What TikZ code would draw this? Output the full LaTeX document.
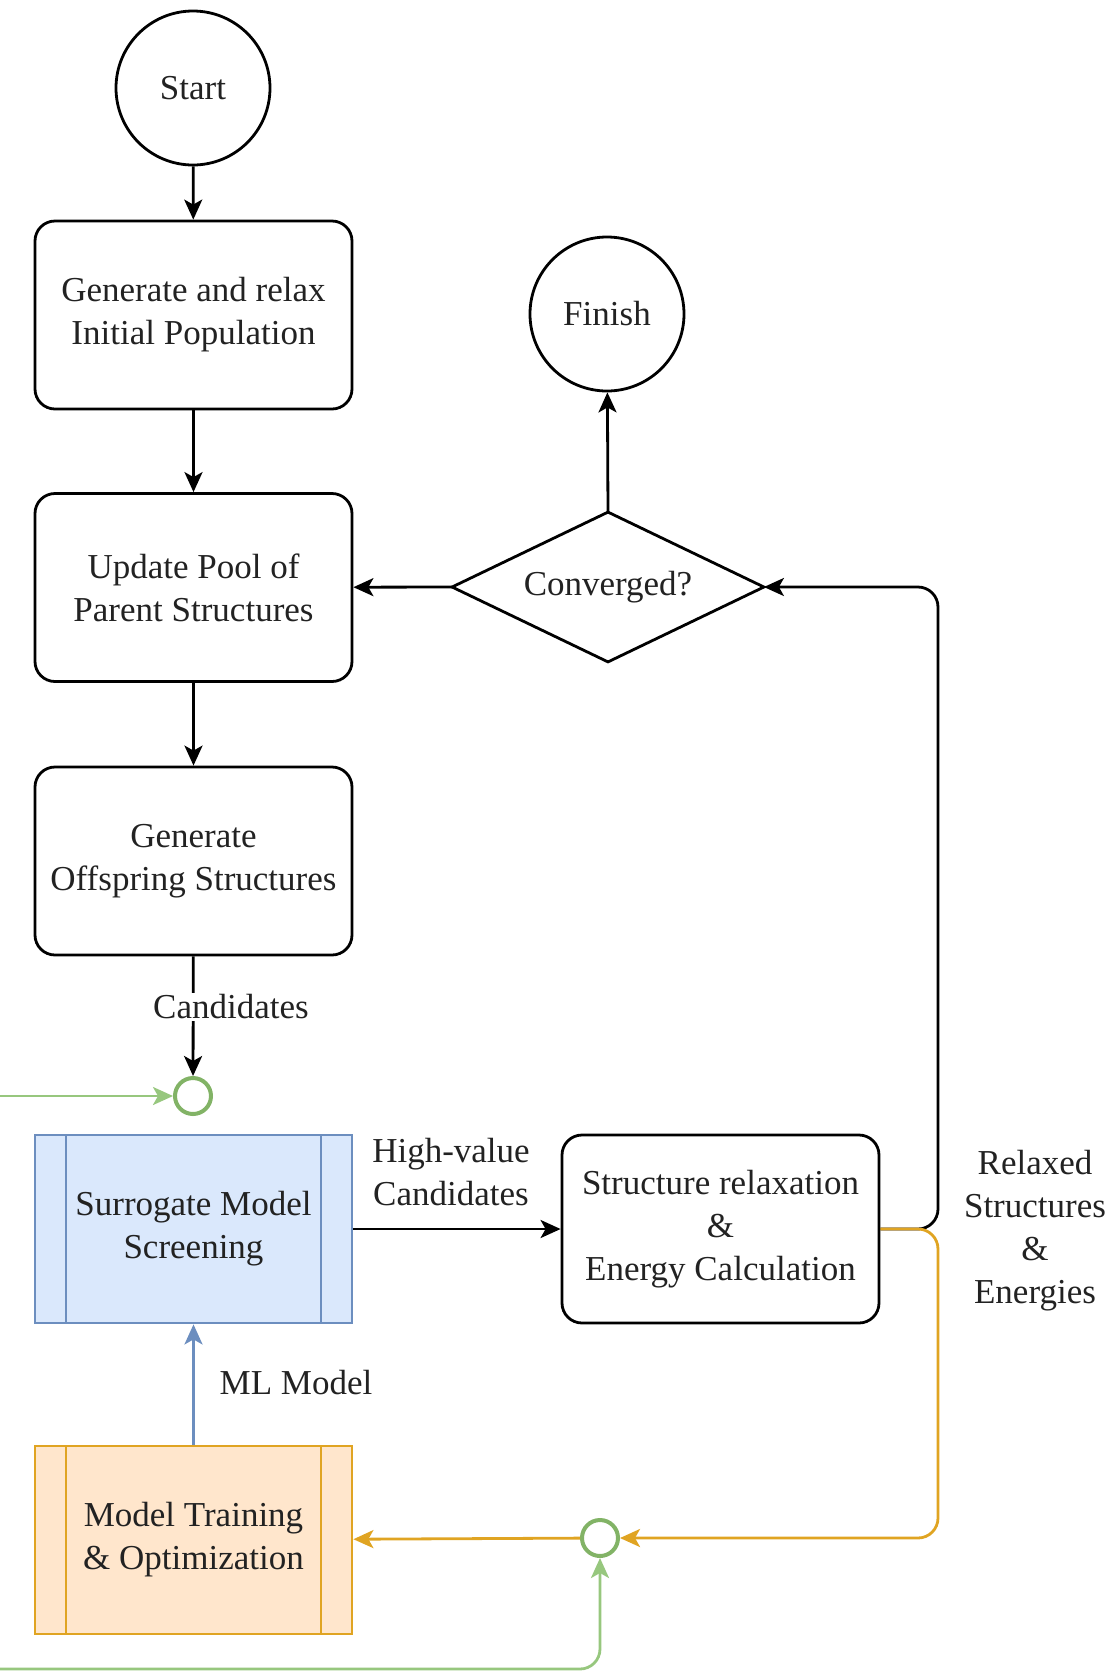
\documentclass[tikz,border=0pt]{standalone}
\usepackage{fontspec}
\setmainfont{Liberation Serif}
\usetikzlibrary{arrows.meta,shapes.geometric,positioning}
\definecolor{blueS}{HTML}{6C8EBF}
\definecolor{blueF}{HTML}{DAE8FC}
\definecolor{orS}{HTML}{E0A422}
\definecolor{orF}{HTML}{FFE6CC}
\definecolor{grS}{HTML}{82B366}
\definecolor{grL}{HTML}{97C77E}
\definecolor{txt}{HTML}{222222}
\tikzset{
  lbl/.style={font=\fontsize{17.5pt}{21.5pt}\selectfont, text=txt, align=center},
  term/.style={lbl, circle, draw=black, line width=1.4pt, minimum size=77pt, inner sep=0pt},
  stepbox/.style={lbl, draw=black, line width=1.4pt, rounded corners=10pt, minimum width=158.5pt, minimum height=94pt, inner sep=0pt},
  procbox/.style={lbl, draw=#1S, fill=#1F, line width=1.4pt, minimum width=158.5pt, minimum height=94pt, inner sep=0pt,
    path picture={\draw[#1S, line width=1.4pt] ([xshift=15.5pt]path picture bounding box.north west) -- ([xshift=15.5pt]path picture bounding box.south west);
                  \draw[#1S, line width=1.4pt] ([xshift=-15.5pt]path picture bounding box.north east) -- ([xshift=-15.5pt]path picture bounding box.south east);}},
  decide/.style={lbl, rectangle, minimum width=155.5pt, minimum height=74.5pt, inner sep=0pt},
  decideline/.style={draw=black, line width=1.4pt, line join=miter},
  junct/.style={circle, draw=grS, line width=2pt, minimum size=18pt, inner sep=0pt, fill=white},
  flow/.style={line width=1.4pt, -{Stealth[length=10pt,width=9pt,inset=2.5pt]}},
}
\begin{document}
\begin{tikzpicture}[x=0.5pt,y=-0.5pt]
\useasboundingbox (0,0) rectangle (1117,1672);
\node[term] (start) at (193,88) {Start};
\node[stepbox] (init) at (193.5,315) {Generate and relax\\Initial Population};
\node[stepbox] (pool) at (193.5,587.5) {Update Pool of\\Parent Structures};
\node[stepbox] (off) at (193.5,861) {Generate\\Offspring Structures};
\node[term] (finish) at (607,314) {Finish};
\node[decide] (conv) at (608,587) {Converged?};
\draw[decideline] (conv.north) -- (conv.east) -- (conv.south) -- (conv.west) -- cycle;
\node[junct] (j1) at (193,1096) {};
\node[procbox=blue] (surr) at (193.5,1229) {Surrogate Model\\Screening};
\node[stepbox] (relax) at (720.5,1229) {Structure relaxation\\\&\\Energy Calculation};
\node[procbox=or] (train) at (193.5,1540) {Model Training\\\& Optimization};
\node[junct] (j2) at (600,1538) {};
\node[lbl] (hv) at (451,1172) {High-value\\Candidates};
\node[lbl] (rel) at (1035,1231) {Relaxed\\Structures\\\&\\Energies};
\node[lbl] (ml) at (296,1383) {ML Model};
\coordinate (gin1) at (0,1096);
\coordinate (gin2) at (0,1669);
\coordinate (cA) at (938,1229);
\coordinate (cB) at (938,587);
\coordinate (cC) at (938,1538);
\coordinate (cD) at (600,1669);

\draw[flow] (start) -- (init);
\draw[flow] (init) -- (pool);
\draw[flow] (pool) -- (off);
\draw[flow] (off) -- (j1);
\node[lbl, fill=white, inner sep=1pt] (cand) at (231,1007) {Candidates};
\draw[flow] (conv.west) -- (pool);
\draw[flow] (conv.north) -- (finish);
\draw[flow] (surr) -- (relax);
\draw[flow, rounded corners=10pt] (relax.east) -- (cA) -- (cB) -- (conv.east);
\draw[flow, orS, rounded corners=10pt] (relax.east) -- (cA) -- (cC) -- (j2.east);
\draw[flow, orS] (j2) -- (train);
\draw[flow, blueS] (train) -- (surr);
\draw[flow, grL] (gin1) -- (j1);
\draw[flow, grL, rounded corners=10pt] (gin2) -- (cD) -- (j2.south);
\end{tikzpicture}
\end{document}
